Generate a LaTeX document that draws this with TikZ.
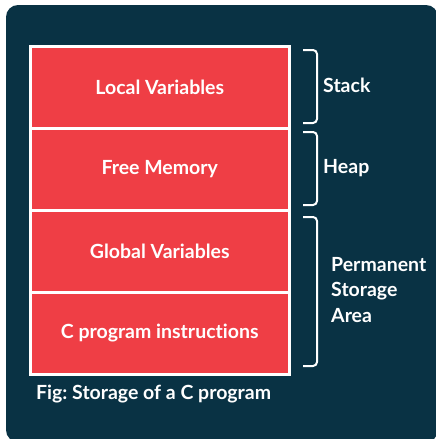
\documentclass[tikz,border=0pt]{standalone}
\usepackage{fontspec}
\setmainfont{Lato}[Ligatures={NoCommon,NoRequired,NoContextual}]
\frenchspacing
\definecolor{panel}{HTML}{093244}
\definecolor{cellred}{HTML}{EF3E45}
\newcommand{\labelfont}{\bfseries\fontsize{19.5}{25.5}\selectfont}
\tikzset{
  cell/.style={draw=white, line width=2.5pt, fill=cellred, minimum width=259pt,
    minimum height=82pt, anchor=north west, inner sep=0pt,
    font=\labelfont, text=white},
  bracket/.style={draw=white, line width=2pt, rounded corners=4pt},
  side/.style={font=\labelfont, text=white, anchor=west, inner sep=0pt},
}
\begin{document}
\begin{tikzpicture}[x=1pt, y=-1pt]
  \useasboundingbox (0,0) rectangle (436,439);
  \fill[white] (0,0) rectangle (436,439);
  \begin{scope}
    \clip (0,0) rectangle (436,439);
    \fill[panel, rounded corners=12pt] (6,5) rectangle (438,442);
  \end{scope}

  % memory segments, top to bottom
  \node[cell] (local)  at (29,45)  {Local Variables};
  \node[cell] (free)   at (29,127) {Free Memory};
  \node[cell] (global) at (29,209) {Global Variables};
  \node[cell] (instr)  at (29,291) {C program instructions};

  % brackets grouping the segments
  \draw[bracket] (303,50)  -- (317,50)  -- (317,123) -- (303,123);
  \draw[bracket] (303,132) -- (317,132) -- (317,205) -- (303,205);
  \draw[bracket] (303,217) -- (317,217) -- (317,366) -- (303,366);

  \node[side] (stack) at (323,85)  {Stack};
  \node[side] (heap)  at (323,168) {Heap};
  \node[side, align=left] (perm) at (331,290) {Permanent\\Storage\\Area};

  \node[side] (caption) at (36,394) {Fig: Storage of a C program};
\end{tikzpicture}
\end{document}
